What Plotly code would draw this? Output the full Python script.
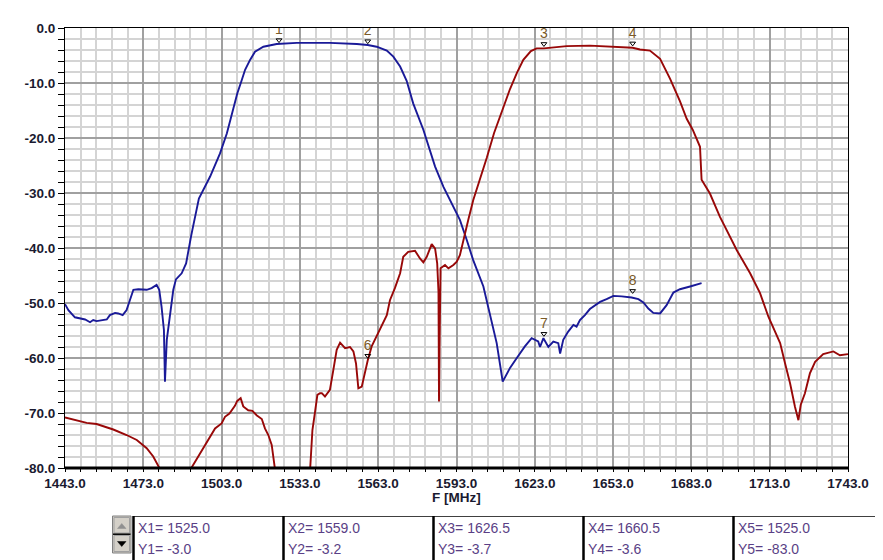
import plotly.graph_objects as go

# ---------------- data ----------------
blue_f = [1443.0, 1444.3, 1446.8, 1449.4, 1450.7, 1452.6, 1453.8, 1455.1, 1457.0, 1459.0,
          1460.2, 1462.2, 1463.4, 1465.1, 1466.6, 1467.9, 1469.2, 1471.1, 1474.3, 1476.2,
          1478.1, 1479.1, 1480.0, 1480.9, 1481.3, 1482.0, 1483.2, 1484.5, 1485.5, 1487.7,
          1489.4, 1490.2, 1491.3, 1491.8, 1492.8, 1494.3, 1498.6, 1502.4, 1505.0, 1507.5,
          1509.0, 1510.7, 1512.0, 1513.9, 1515.8, 1519.0, 1524.1, 1531.8, 1544.5, 1554.8,
          1559.0, 1562.4, 1566.3, 1568.8, 1571.4, 1573.9, 1576.4, 1580.3, 1584.8, 1588.0,
          1591.2, 1594.3, 1596.9, 1599.4, 1603.3, 1605.8, 1608.4, 1610.7, 1613.5, 1616.1,
          1619.2, 1621.8, 1624.3, 1625.0, 1626.3, 1628.2, 1630.1, 1632.0, 1632.7, 1633.9,
          1635.8, 1637.8, 1639.0, 1640.3, 1642.2, 1644.1, 1646.0, 1648.0, 1650.5, 1653.1,
          1656.3, 1660.1, 1662.7, 1664.6, 1666.5, 1668.4, 1671.0, 1673.5, 1676.1, 1678.6,
          1682.5, 1686.9]
blue_db = [-50.2, -51.3, -52.6, -52.8, -53.0, -53.5, -53.1, -53.3, -53.1, -53.0,
           -52.2, -51.8, -51.9, -52.2, -51.3, -49.5, -47.6, -47.5, -47.6, -47.3,
           -46.7, -47.6, -50.7, -54.9, -64.3, -56.7, -51.9, -47.6, -45.7, -44.6,
           -42.8, -41.0, -37.9, -36.7, -34.5, -31.0, -27.0, -22.8, -19.2, -14.9,
           -11.9, -9.5, -7.6, -5.8, -4.3, -3.4, -2.9, -2.7, -2.7, -2.9,
           -3.1, -3.4, -4.1, -5.2, -7.0, -9.6, -13.7, -18.5, -25.2, -28.9,
           -31.9, -34.9, -38.5, -42.2, -47.0, -51.9, -57.3, -64.3, -61.8, -60.0,
           -57.9, -56.4, -57.0, -58.0, -56.4, -58.0, -57.0, -57.3, -59.2, -56.7,
           -55.2, -54.0, -54.3, -53.1, -52.2, -51.1, -50.4, -49.8, -49.3, -48.7,
           -48.8, -49.0, -49.3, -49.9, -51.0, -51.8, -51.9, -50.4, -48.1, -47.5,
           -47.0, -46.4]

red_f = [1443.0, 1451.3, 1455.1, 1461.5, 1466.6, 1470.5, 1474.3, 1476.8, 1479.4, 1481.0,
         1485.0, 1489.5, 1490.9, 1494.7, 1497.9, 1500.5, 1503.0, 1504.3, 1506.0, 1508.1,
         1509.0, 1510.3, 1511.3, 1513.2, 1514.8, 1516.4, 1518.4, 1519.6, 1520.9, 1522.2,
         1523.5, 1525.0, 1530.0, 1535.5, 1536.9, 1537.8, 1538.8, 1539.7, 1540.7, 1541.4,
         1542.6, 1543.9, 1544.5, 1545.8, 1547.1, 1548.4, 1550.3, 1552.2, 1553.5, 1554.5,
         1555.4, 1556.7, 1558.0, 1559.0, 1560.5, 1562.4, 1564.3, 1566.3, 1567.5, 1569.4,
         1571.4, 1572.6, 1574.5, 1577.1, 1579.0, 1580.3, 1581.6, 1583.5, 1584.8, 1585.6,
         1586.1, 1586.3, 1586.5, 1586.9, 1588.6, 1589.9, 1591.8, 1593.1, 1594.3, 1595.6,
         1597.5, 1599.4, 1602.0, 1604.6, 1607.4, 1610.6, 1613.5, 1616.1, 1618.6, 1621.5,
         1623.7, 1626.5, 1635.2, 1644.1, 1651.8, 1660.5, 1663.3, 1667.1, 1671.0, 1674.8,
         1678.6, 1681.2, 1683.5, 1686.3, 1686.9, 1690.1, 1693.9, 1700.4, 1705.5, 1709.3,
         1712.5, 1715.7, 1717.0, 1718.9, 1720.8, 1722.7, 1724.0, 1724.9, 1726.5, 1728.4,
         1730.4, 1733.5, 1737.4, 1739.9, 1743.0]
red_db = [-70.8, -71.8, -72.0, -73.0, -74.0, -74.9, -76.4, -77.9, -80.2, -82.5,
          -86.0, -82.0, -80.4, -77.3, -74.8, -72.8, -71.9, -70.7, -70.1, -68.7,
          -67.8, -67.3, -68.8, -69.5, -69.6, -70.4, -71.1, -72.8, -74.0, -75.8,
          -80.4, -83.0, -87.0, -82.5, -80.4, -73.1, -69.8, -66.7, -66.4, -66.4,
          -67.0, -66.1, -65.8, -62.2, -58.5, -57.2, -58.2, -58.0, -58.8, -61.0,
          -65.5, -65.2, -62.2, -60.4, -57.9, -56.1, -54.3, -52.2, -49.5, -47.3,
          -44.6, -41.6, -40.7, -40.5, -41.9, -42.6, -41.6, -39.3, -40.1, -42.8,
          -48.0, -67.9, -58.0, -43.7, -43.1, -43.7, -43.1, -42.5, -41.3, -38.5,
          -34.9, -31.3, -27.6, -23.6, -19.1, -14.9, -11.1, -8.2, -5.8, -4.2,
          -3.7, -3.7, -3.3, -3.2, -3.4, -3.6, -3.9, -4.1, -5.6, -9.2,
          -13.3, -16.5, -18.5, -21.6, -27.6, -30.1, -34.3, -40.4, -44.6, -48.2,
          -52.5, -56.1, -57.3, -61.0, -64.6, -68.9, -71.3, -68.5, -66.4, -62.8,
          -60.7, -59.3, -58.8, -59.5, -59.3]

marker_ids = ["1", "2", "3", "4", "5", "6", "7", "8"]
marker_f = [1525.0, 1559.0, 1626.5, 1660.5, 1525.0, 1559.0, 1626.5, 1660.5]
marker_db = [-3.0, -3.2, -3.7, -3.6, -83.0, -60.4, -56.4, -48.6]

readout_x = [1525.0, 1559.0, 1626.5, 1660.5, 1525.0]
readout_y = [-3.0, -3.2, -3.7, -3.6, -83.0]

x_tickvals = [1443, 1473, 1503, 1533, 1563, 1593, 1623, 1653, 1683, 1713, 1743]
x_ticktext = ["1443.0", "1473.0", "1503.0", "1533.0", "1563.0", "1593.0",
              "1623.0", "1653.0", "1683.0", "1713.0", "1743.0"]
y_tickvals = [0, -10, -20, -30, -40, -50, -60, -70, -80]
y_ticktext = ["0.0", "-10.0", "-20.0", "-30.0", "-40.0", "-50.0", "-60.0", "-70.0", "-80.0"]
x_title = "F [MHz]"

# ---------------- layout helpers (target pixel -> paper) ----------------
W, H = 883, 560
OFF = 8                      # page body margin of the html page
L, R, T, B = 65, 848, 28, 468  # plot area in target picture pixels


def pxx(p):
    return (p - L) / (R - L)


def pxy(p):
    return (B - p) / (B - T)


FONT = "Liberation Sans, Arial, sans-serif"
BLUE = "#1a1a98"
RED = "#980808"

vis = [i for i, v in enumerate(marker_db) if v >= -80]
mk_f = [marker_f[i] for i in vis]
mk_y = [marker_db[i] for i in vis]
mk_t = [marker_ids[i] for i in vis]

fig = go.Figure()
fig.add_trace(go.Scatter(x=blue_f, y=blue_db, mode="lines",
                         line=dict(color=BLUE, width=1.9), hoverinfo="skip"))
fig.add_trace(go.Scatter(x=red_f, y=red_db, mode="lines",
                         line=dict(color=RED, width=1.9), hoverinfo="skip"))
fig.add_trace(go.Scatter(x=mk_f, y=[v + 0.8 for v in mk_y], mode="markers",
                         marker=dict(symbol="triangle-down-open", size=5,
                                     color="black", line=dict(color="black", width=1)),
                         hoverinfo="skip"))
fig.add_trace(go.Scatter(x=mk_f, y=[v + 2.5 for v in mk_y], mode="text",
                         text=mk_t, textposition="middle center",
                         textfont=dict(family=FONT, size=14, color="#7a5a28"),
                         hoverinfo="skip"))

grid_major = "#a0a0a0"
grid_minor = "#d4d4d4"
tickfont = dict(family=FONT, size=13.5, color="#1a1a30", weight="bold")

fig.update_xaxes(range=[1443, 1743], tickmode="array", tickvals=x_tickvals, ticktext=x_ticktext,
                 showgrid=True, gridcolor=grid_major, gridwidth=1.5,
                 ticks="outside", ticklen=3, tickcolor="black", tickwidth=1,
                 showline=True, linecolor="black", linewidth=1.2, mirror=True,
                 tickfont=tickfont, zeroline=False,
                 minor=dict(tick0=1443, dtick=6, ticks="outside", ticklen=3, tickcolor="black",
                            showgrid=True, gridcolor=grid_minor, gridwidth=1.5))
fig.update_yaxes(range=[-80, 0], tickmode="array", tickvals=y_tickvals, ticktext=y_ticktext,
                 showgrid=True, gridcolor=grid_major, gridwidth=1.5,
                 ticks="outside", ticklen=6, tickcolor="black", tickwidth=1,
                 showline=True, linecolor="black", linewidth=1.2, mirror=True,
                 tickfont=tickfont, zeroline=False,
                 minor=dict(tick0=0, dtick=2, ticks="outside", ticklen=6, tickcolor="black",
                            showgrid=True, gridcolor=grid_minor, gridwidth=1.5))

shapes = []
# thick bottom axis
shapes.append(dict(type="line", xref="paper", yref="paper", x0=0, x1=1, y0=0, y1=0,
                   line=dict(color="black", width=3)))
# spin button
shapes.append(dict(type="rect", xref="paper", yref="paper",
                   x0=pxx(112.5), x1=pxx(131), y0=pxy(516), y1=pxy(553),
                   fillcolor="#d4d0c8", line=dict(color="#808080", width=1)))
shapes.append(dict(type="rect", xref="paper", yref="paper",
                   x0=pxx(114), x1=pxx(129.5), y0=pxy(517.5), y1=pxy(533),
                   fillcolor="#d4d0c8", line=dict(color="#a0a0a0", width=1)))
shapes.append(dict(type="line", xref="paper", yref="paper",
                   x0=pxx(113), x1=pxx(130.5), y0=pxy(534.2), y1=pxy(534.2),
                   line=dict(color="black", width=1.5)))
shapes.append(dict(type="rect", xref="paper", yref="paper",
                   x0=pxx(114), x1=pxx(129.5), y0=pxy(535.5), y1=pxy(551.5),
                   fillcolor="#d4d0c8", line=dict(color="#a0a0a0", width=1)))
# arrows
up = "M {} {} L {} {} L {} {} Z".format(pxx(117.5), pxy(528.5), pxx(126), pxy(528.5), pxx(121.75), pxy(523.5))
dn = "M {} {} L {} {} L {} {} Z".format(pxx(117.5), pxy(541.5), pxx(126), pxy(541.5), pxx(121.75), pxy(546.5))
shapes.append(dict(type="path", xref="paper", yref="paper", path=up,
                   fillcolor="#909090", line=dict(color="#909090", width=0.5)))
shapes.append(dict(type="path", xref="paper", yref="paper", path=dn,
                   fillcolor="black", line=dict(color="black", width=0.5)))
# readout cells
shapes.append(dict(type="line", xref="paper", yref="paper",
                   x0=pxx(133), x1=pxx(895), y0=pxy(516.5), y1=pxy(516.5),
                   line=dict(color="#404040", width=1.2)))
cell_edges = [133.5, 283.5, 433.5, 583.5, 733.5]
for ce in cell_edges:
    shapes.append(dict(type="line", xref="paper", yref="paper",
                       x0=pxx(ce), x1=pxx(ce), y0=pxy(516), y1=pxy(570),
                       line=dict(color="black", width=2.5)))

annotations = []
annotations.append(dict(text=x_title, xref="paper", yref="paper", x=pxx(430), y=pxy(497),
                        xanchor="left", yanchor="middle", showarrow=False,
                        font=dict(family=FONT, size=13.5, color="#1a1a30", weight="bold")))
TXT = "#5a3f86"
for i, (xv, yv) in enumerate(zip(readout_x, readout_y)):
    x0 = cell_edges[i] + 2
    annotations.append(dict(text="X{}= {:.1f}".format(i + 1, xv), xref="paper", yref="paper",
                            x=pxx(x0), y=pxy(528), xanchor="left", yanchor="middle",
                            showarrow=False, font=dict(family=FONT, size=14, color=TXT)))
    annotations.append(dict(text="Y{}= {:.1f}".format(i + 1, yv), xref="paper", yref="paper",
                            x=pxx(x0), y=pxy(549), xanchor="left", yanchor="middle",
                            showarrow=False, font=dict(family=FONT, size=14, color=TXT)))

fig.update_layout(width=W, height=H,
                  margin=dict(l=L - OFF, r=W - (R - OFF), t=T - OFF, b=H - (B - OFF)),
                  plot_bgcolor="white", paper_bgcolor="white", showlegend=False,
                  shapes=shapes, annotations=annotations)

fig.write_html("out.html")
